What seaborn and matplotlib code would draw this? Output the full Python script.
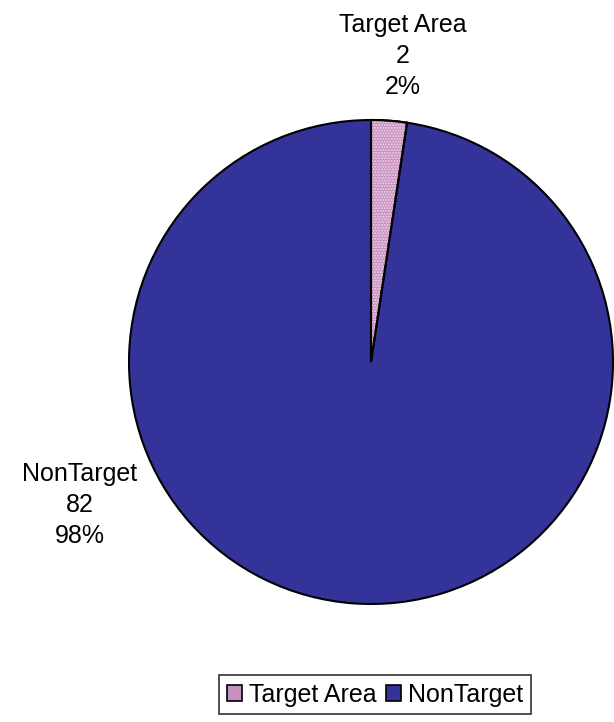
import matplotlib.pyplot as plt
import matplotlib.patches as mpatches
import seaborn as sns

categories = ['Target Area', 'NonTarget']
counts = [2, 82]
percents = ['2%', '98%']
colors = ['#c98fbf', '#333399']
dot_color = '#efd6eb'

sns.set_style('white')
plt.rcParams['font.family'] = ['Liberation Sans', 'DejaVu Sans']
plt.rcParams['text.color'] = 'black'
plt.rcParams['figure.dpi'] = 100

fig = plt.figure(figsize=(6.14, 7.22))
ax = fig.add_axes([0, 0, 1, 1])

# pie in pixel-like units so it lands where the reference has it
wedges, _ = ax.pie(counts, colors=colors, startangle=90, counterclock=False,
                   center=(371, 360), radius=242, frame=True,
                   wedgeprops=dict(edgecolor='black', linewidth=1.5))
ax.set_xlim(0, 614)
ax.set_ylim(0, 722)
ax.set_aspect('equal')
ax.axis('off')

# dotted texture on the small slice
w = wedges[0]
ax.add_patch(mpatches.Wedge(w.center, w.r, w.theta1, w.theta2, facecolor='none',
                            edgecolor=dot_color, hatch='......', linewidth=0))
ax.add_patch(mpatches.Wedge(w.center, w.r, w.theta1, w.theta2, facecolor='none',
                            edgecolor='black', linewidth=1.5))

label_pos = [(403, 722 - 56), (80, 722 - 505)]
for name, n, p, (x, y) in zip(categories, counts, percents, label_pos):
    ax.text(x, y, f'{name}\n{n}\n{p}', ha='center', va='center',
            fontsize=18, linespacing=1.38, color='black')

handles = [mpatches.Patch(facecolor=c, edgecolor='black', linewidth=1.2) for c in colors]
leg = fig.legend(handles, categories, loc='center', bbox_to_anchor=(0.611, 0.038),
                 ncol=2, fontsize=18, frameon=True, fancybox=False,
                 handlelength=0.6, handleheight=0.6, handletextpad=0.3,
                 columnspacing=0.35, borderpad=0.3, borderaxespad=0)
leg.get_frame().set_edgecolor('black')
leg.get_frame().set_linewidth(1.2)
for t in leg.get_texts():
    t.set_color('black')

plt.savefig('out.png', dpi=100)
